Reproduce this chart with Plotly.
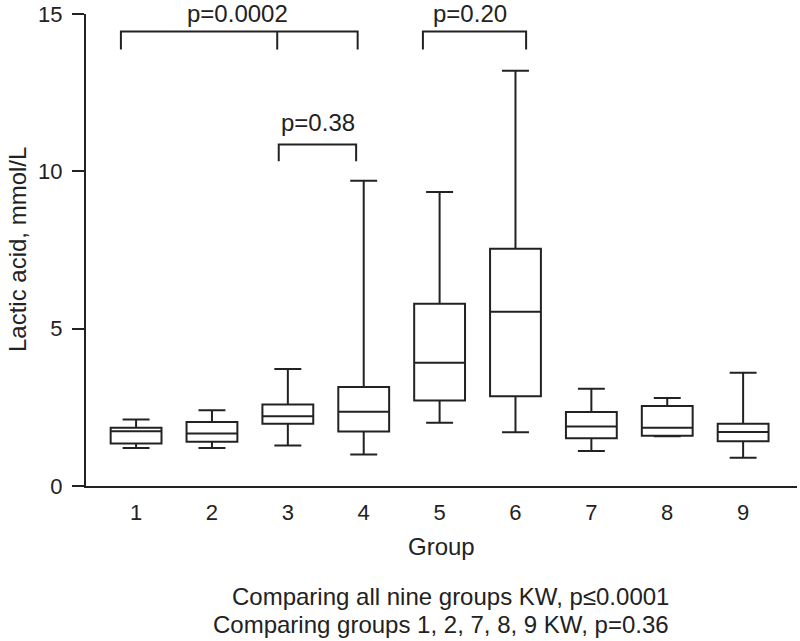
import plotly.graph_objects as go

groups = [1, 2, 3, 4, 5, 6, 7, 8, 9]
group_labels = ["1", "2", "3", "4", "5", "6", "7", "8", "9"]
lower_whisker = [1.21, 1.21, 1.29, 1.00, 2.01, 1.71, 1.11, 1.58, 0.90]
q1_vals = [1.35, 1.41, 1.98, 1.73, 2.72, 2.85, 1.52, 1.60, 1.42]
medians = [1.74, 1.67, 2.22, 2.36, 3.92, 5.54, 1.89, 1.85, 1.72]
q3_vals = [1.85, 2.03, 2.59, 3.15, 5.79, 7.54, 2.35, 2.54, 1.98]
upper_whisker = [2.11, 2.41, 3.72, 9.70, 9.34, 13.20, 3.09, 2.80, 3.60]

y_ticks = [0, 5, 10, 15]

# comparison brackets: (x_left, x_right, x_mid or None, y_top, y_bottom, label, label_x, label_y)
brackets = [
    (0.80, 3.92, 2.86, 14.44, 13.87, "p=0.0002", 2.34, 15.02),
    (4.78, 6.14, None, 14.44, 13.87, "p=0.20", 5.40, 15.02),
    (2.88, 3.90, None, 10.85, 10.32, "p=0.38", 3.40, 11.55),
]
Y_MAX = 15

footnotes = [
    "Comparing all nine groups KW, p\u22640.0001",
    "Comparing groups 1, 2, 7, 8, 9 KW, p=0.36",
]

ink = "#222222"
font_family = "Liberation Sans, Arial, Helvetica, sans-serif"

fig = go.Figure()
fig.add_trace(go.Box(
    x=groups,
    q1=q1_vals,
    median=medians,
    q3=q3_vals,
    lowerfence=lower_whisker,
    upperfence=upper_whisker,
    width=0.67,
    whiskerwidth=0.53,
    fillcolor="rgba(0,0,0,0)",
    line=dict(color=ink, width=2),
    boxpoints=False,
    showlegend=False,
    hoverinfo="skip",
))

shapes = []
annotations = []
for xl, xr, xm, yt, yb, lab, lx, ly in brackets:
    path = f"M {xl} {yb} L {xl} {yt} L {xr} {yt} L {xr} {yb}"
    shapes.append(dict(type="path", xref="x", yref="y", path=path,
                       line=dict(color=ink, width=2)))
    if xm is not None:
        shapes.append(dict(type="line", xref="x", yref="y", x0=xm, x1=xm,
                           y0=yt, y1=yb, line=dict(color=ink, width=2)))
    annotations.append(dict(x=lx, y=ly / Y_MAX, xref="x", yref="paper", text=lab,
                            showarrow=False, xanchor="center", yanchor="middle",
                            font=dict(size=24, color=ink, family=font_family)))

annotations.append(dict(x=0.5, y=-0.128, xref="paper", yref="paper", text="Group",
                        showarrow=False, xanchor="center", yanchor="middle",
                        font=dict(size=24, color=ink, family=font_family)))
annotations.append(dict(x=-0.097, y=0.5, xref="paper", yref="paper",
                        text="Lactic acid, mmol/L", textangle=-90,
                        showarrow=False, xanchor="center", yanchor="middle",
                        font=dict(size=24, color=ink, family=font_family)))
for i, t in enumerate(footnotes):
    annotations.append(dict(x=0.823, y=-0.234 - 0.059 * i, xref="paper", yref="paper",
                            text=t, showarrow=False, xanchor="right", yanchor="middle",
                            font=dict(size=24, color=ink, family=font_family)))

fig.update_layout(
    width=800, height=641,
    margin=dict(l=86, r=3, t=14, b=155, autoexpand=False),
    paper_bgcolor="white", plot_bgcolor="white",
    font=dict(family=font_family, size=22, color=ink),
    shapes=shapes,
    annotations=annotations,
    xaxis=dict(range=[0.34, 9.71], tickvals=groups, ticktext=group_labels,
               showline=True, linecolor=ink, linewidth=2, ticks="",
               showgrid=False, zeroline=False, ticklabelstandoff=6,
               automargin=False, tickfont=dict(size=22)),
    yaxis=dict(range=[0, Y_MAX], tickvals=y_ticks, showline=True, linecolor=ink,
               linewidth=2, ticks="outside", ticklen=12, tickwidth=2, tickcolor=ink,
               showgrid=False, zeroline=False, automargin=False,
               ticklabelstandoff=5, tickfont=dict(size=22)),
)

fig.write_html(
    "out.html",
    config={"displayModeBar": False},
    post_script="document.body.style.margin='0';document.body.style.overflow='hidden';",
)
